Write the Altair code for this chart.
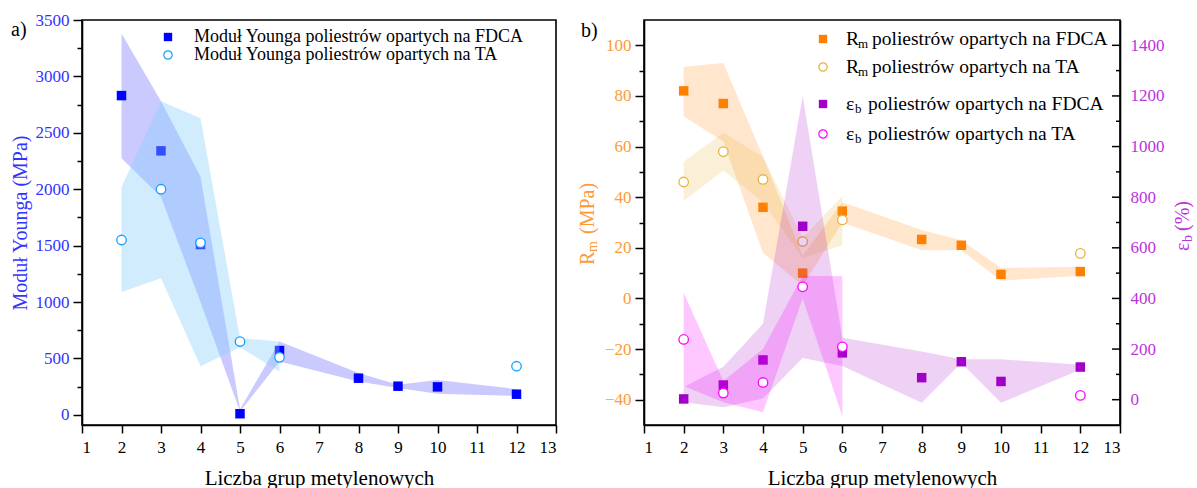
import altair as alt
import pandas as pd

FONT = "Liberation Serif"

# ---------------- panel a: Young's modulus (MPa)
n_a_fdca = [2, 3, 4, 5, 6, 8, 9, 10, 12]
E_fdca = [2830, 2340, 1510, 10, 570, 325, 254, 248, 183]
E_fdca_hi = [3380, 2780, 2110, 50, 650, 370, 266, 310, 228]
E_fdca_lo = [2275, 1930, 1000, 30, 472, 295, 237, 186, 168]

n_a_ta = [2, 3, 4, 5, 6, 12]
E_ta = [1550, 2000, 1525, 650, 510, 431]
E_ta_hi = [2020, 2780, 2630, 680, 650, None]
E_ta_lo = [1090, 1210, 430, 600, 384, None]

# ---------------- panel b: Rm (MPa) and elongation at break (%)
n_b_fdca = [2, 3, 4, 5, 6, 8, 9, 10, 12]
Rm_fdca = [82, 77, 36, 10, 34.5, 23.3, 21, 9.5, 10.6]
Rm_fdca_hi = [91.5, 93, 56, 17, 38, 27, 23, 12, 12.5]
Rm_fdca_lo = [72, 62, 18, 5, 30, 19, 19, 7, 9]
eb_fdca = [3, 58, 157, 685, 185, 87, 150, 72, 129]
eb_fdca_hi = [50, 130, 300, 1200, 245, 190, 160, 160, 138]
eb_fdca_lo = [-10, -30, 5, 165, 133, -12, 145, -12, 118]

n_b_ta = [2, 3, 4, 5, 6, 12]
Rm_ta = [46, 58, 47, 22.5, 31, 17.8]
Rm_ta_hi = [54, 65.5, 56, 24, 40.5, None]
Rm_ta_lo = [38.5, 50.5, 38, 16, 21, None]
eb_ta = [238, 26, 68, 446, 209, 17]
eb_ta_hi = [422, 74, 200, 490, 488, None]
eb_ta_lo = [54, -10, -50, 400, -65, None]

x_ticks = list(range(1, 14))
eb_ticks = list(range(0, 1401, 100))
lab_a = ["Moduł Younga poliestrów opartych na FDCA", "Moduł Younga poliestrów opartych na TA"]
lab_b_rest = ["poliestrów opartych na FDCA", "poliestrów opartych na TA",
              "poliestrów opartych na FDCA", "poliestrów opartych na TA"]

BLUE, LBLUE = "#0000FF", "#14A0FF"
ORANGE, GOLD = "#FF8000", "#E6B43C"
PURPLE, MAGENTA = "#A000C8", "#FF00FF"
C_A_AX = "#3333FF"
C_RM_AX = "#FF9933"
C_EB_AX = "#BB33DD"

W_A, W_B, H = 474, 476, 405
ONE = pd.DataFrame({"k": [0]})


def frame(n, v, hi, lo):
    return pd.DataFrame({"x": n, "v": v, "hi": hi, "lo": lo})


XAXIS = alt.Axis(values=x_ticks, title="Liczba grup metylenowych", tickSize=8,
                 labelPadding=6, titlePadding=12, labelColor="black",
                 titleColor="black", format="d", labelFont=FONT, titleFont=FONT,
                 labelFontSize=17, titleFontSize=21, titleFontWeight="normal")


def X():
    return alt.X("x:Q", scale=alt.Scale(domain=[1, 13], nice=False), axis=XAXIS)


def minor_axis(step_lab, orient, color, vals, title=None, title_pad=8, ticks=True, lab_pad=4):
    kw = dict(
        values=vals, orient=orient, format="d",
        labelExpr=f"datum.value % {step_lab} === 0 ? datum.label : ''",
        labelPadding=lab_pad, labelColor=color, titleColor=color, titlePadding=title_pad,
        labelFont=FONT, titleFont=FONT, labelFontSize=17, titleFontSize=20,
        titleFontWeight="normal",
    )
    if ticks:
        kw["tickSize"] = {"condition": {"test": f"datum.value % {step_lab} === 0", "value": 9},
                          "value": 5}
    else:
        kw["ticks"] = False
    kw["title"] = title
    return alt.Axis(**kw)


def layers_for(df, color, fillcolor, fop, shape, scale, axis, hollow=False):
    y_band = alt.Y("hi:Q", scale=scale, axis=axis)
    band = (alt.Chart(df).transform_filter("isValid(datum.hi)")
            .mark_area(orient="vertical", color=fillcolor, opacity=fop)
            .encode(x=X(), y=y_band, y2="lo:Q"))
    if hollow:
        pts = alt.Chart(df).mark_point(shape=shape, filled=True, fill="white", stroke=color,
                                       strokeWidth=1.3, size=90, opacity=1)
    else:
        pts = alt.Chart(df).mark_point(shape=shape, filled=True, color=color, size=90, opacity=1)
    pts = pts.encode(x=X(), y=alt.Y("v:Q", scale=scale, axis=axis))
    return [band, pts]


def txt(text, x, y, size=19, color="black", angle=0):
    return (alt.Chart(ONE)
            .mark_text(text=text, font=FONT, fontSize=size, color=color, angle=angle,
                       align="left", baseline="middle")
            .encode(x=alt.value(x), y=alt.value(y)))


def sym(x, y, shape, color, hollow=False):
    if hollow:
        m = alt.Chart(ONE).mark_point(shape=shape, filled=True, fill="white", stroke=color,
                                      strokeWidth=1.2, size=70, opacity=1)
    else:
        m = alt.Chart(ONE).mark_point(shape=shape, filled=True, color=color, size=70, opacity=1)
    return m.encode(x=alt.value(x), y=alt.value(y))


# ---------------- panel a
ya_scale = alt.Scale(domain=[-90, 3500], nice=False)
ya_axis = minor_axis(500, "left", C_A_AX, list(range(0, 3501, 250)),
                     title="Moduł Younga (MPa)", title_pad=5)
la = []
la += layers_for(frame(n_a_fdca, E_fdca, E_fdca_hi, E_fdca_lo), BLUE, "#6666FF", 0.35,
                 "square", ya_scale, ya_axis)
la += layers_for(frame(n_a_ta, E_ta, E_ta_hi, E_ta_lo), LBLUE, "#87CEFA", 0.38,
                 "circle", ya_scale, ya_axis, hollow=True)
la += [
    txt("a)", -71, 10, size=20),
    sym(86, 17, "square", BLUE),
    sym(86, 35, "circle", LBLUE, hollow=True),
    txt(lab_a[0], 112, 17, size=18),
    txt(lab_a[1], 112, 35, size=18),
]
panel_a = alt.layer(*la).properties(width=W_A, height=H)

# ---------------- panel b
yl_scale = alt.Scale(domain=[-50, 110], nice=False)
yl_axis = minor_axis(20, "left", C_RM_AX, list(range(-40, 101, 10)))
yr_scale = alt.Scale(domain=[-100, 1500], nice=False)
yr_axis = minor_axis(200, "right", C_EB_AX, eb_ticks, ticks=False, lab_pad=10)

rm_layers = []
rm_layers += layers_for(frame(n_b_fdca, Rm_fdca, Rm_fdca_hi, Rm_fdca_lo), ORANGE, ORANGE, 0.2,
                        "square", yl_scale, yl_axis)
rm_layers += layers_for(frame(n_b_ta, Rm_ta, Rm_ta_hi, Rm_ta_lo), GOLD, GOLD, 0.2,
                        "circle", yl_scale, yl_axis, hollow=True)
eb_layers = []
eb_layers += layers_for(frame(n_b_fdca, eb_fdca, eb_fdca_hi, eb_fdca_lo), PURPLE, PURPLE, 0.18,
                        "square", yr_scale, yr_axis)
eb_layers += layers_for(frame(n_b_ta, eb_ta, eb_ta_hi, eb_ta_lo), MAGENTA, MAGENTA, 0.22,
                        "circle", yr_scale, yr_axis, hollow=True)

# inward ticks of the right-hand axis, placed through the right scale
tick_df = pd.DataFrame({"t": eb_ticks})
for flt, ln in [("datum.t % 200 === 0", 8), ("datum.t % 200 !== 0", 4)]:
    eb_layers.append(
        alt.Chart(tick_df).transform_filter(flt)
        .mark_rule(color="black", strokeWidth=1.5)
        .encode(y=alt.Y("t:Q", scale=yr_scale, axis=yr_axis),
                x=alt.value(W_B - ln), x2=alt.value(W_B))
    )

rows_y = [19, 47, 84, 114]
deco = [
    txt("b)", -63, 11, size=20),
    # left title R_m (MPa)
    txt("R", -56, 245, size=20, color=C_RM_AX, angle=270),
    txt("m", -51, 232, size=14, color=C_RM_AX, angle=270),
    txt("(MPa)", -56, 214, size=20, color=C_RM_AX, angle=270),
    # right title eps_b (%)
    txt("ε", 539, 231, size=20, color=C_EB_AX, angle=270),
    txt("b", 544, 222, size=14, color=C_EB_AX, angle=270),
    txt("(%)", 539, 211, size=20, color=C_EB_AX, angle=270),
    sym(179, rows_y[0], "square", ORANGE),
    sym(179, rows_y[1], "circle", GOLD, hollow=True),
    sym(179, rows_y[2], "square", PURPLE),
    sym(179, rows_y[3], "circle", MAGENTA, hollow=True),
]
for i, r in enumerate(rows_y):
    if i < 2:
        deco += [txt("R", 202, r, size=19.5), txt("m", 214, r + 5, size=13),
                 txt(lab_b_rest[i], 228, r, size=19.5)]
    else:
        deco += [txt("ε", 202, r, size=19.5), txt("b", 211, r + 5, size=13),
                 txt(lab_b_rest[i], 224, r, size=19.5)]

panel_b = (alt.layer(alt.layer(*rm_layers), alt.layer(*eb_layers), alt.layer(*deco))
           .resolve_scale(y="independent")
           .properties(width=W_B, height=H))

chart = (alt.hconcat(panel_a, panel_b, spacing=88, bounds="flush")
         .properties(padding={"left": 9, "top": 10, "right": 0, "bottom": 0})
         .configure_view(stroke="black", strokeWidth=1.6)
         .configure_axis(domainColor="black", domainWidth=1.6, tickColor="black", tickWidth=1.5,
                         labelFont=FONT, titleFont=FONT, labelFontSize=17, titleFontSize=20,
                         titleFontWeight="normal", grid=False))

chart.save("out.html", embed_options={"renderer": "svg", "actions": False})
